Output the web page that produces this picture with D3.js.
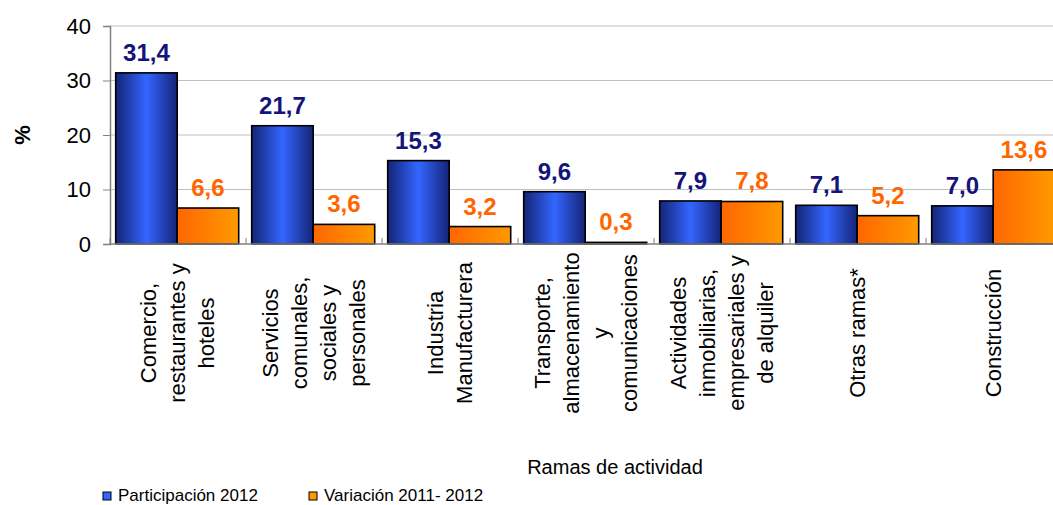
<!DOCTYPE html>
<html lang="es">
<head>
<meta charset="utf-8">
<title>Ramas de actividad</title>
<script src="https://d3js.org/d3.v7.min.js"></script>
<style>
    body { margin: 0; background: #fff; }
    svg { display: block; font-family: Arial, "Liberation Sans", sans-serif; }
    .grid line { stroke: #c0c0c0; stroke-width: 1; }
    .bar { stroke: #000; stroke-width: 1.6px; }
</style>
</head>
<body>
<svg width="1053" height="505"></svg>
<script>
    // categorias (cada una partida en lineas como en el original)
    var categories = [
        ["Comercio,", "restaurantes y", "hoteles"],
        ["Servicios", "comunales,", "sociales y", "personales"],
        ["Industria", "Manufacturera"],
        ["Transporte,", "almacenamiento", "y", "comunicaciones"],
        ["Actividades", "inmobiliarias,", "empresariales y", "de alquiler"],
        ["Otras ramas*"],
        ["Construcción"]
    ];
    var participacion = [31.4, 21.7, 15.3, 9.6, 7.9, 7.1, 7.0];
    var variacion = [6.6, 3.6, 3.2, 0.3, 7.8, 5.2, 13.6];
    var seriesNames = ["Participación 2012", "Variación 2011- 2012"];
    var yTicks = [0, 10, 20, 30, 40];

    var svg = d3.select("svg");
    var x0 = 110, x1 = 1062, yTop = 26, yBottom = 244;

    var defs = svg.append("defs");
    var gb = defs.append("linearGradient").attr("id", "gBlue").attr("x1", "0%").attr("x2", "100%");
    gb.append("stop").attr("offset", "0%").attr("stop-color", "#142477");
    gb.append("stop").attr("offset", "50%").attr("stop-color", "#3366ff");
    gb.append("stop").attr("offset", "100%").attr("stop-color", "#142477");
    var go = defs.append("linearGradient").attr("id", "gOrange").attr("x1", "0%").attr("x2", "100%");
    go.append("stop").attr("offset", "0%").attr("stop-color", "#ff6600");
    go.append("stop").attr("offset", "100%").attr("stop-color", "#ff9a00");

    var x = d3.scaleBand().domain(d3.range(categories.length)).range([x0, x1]);
    var xs = d3.scaleBand().domain([0, 1]).range([5.7, x.bandwidth() - 7.3]);
    var y = d3.scaleLinear().domain([0, 40]).range([yBottom, yTop]);

    // lineas de division
    svg.append("g").attr("class", "grid")
        .selectAll("line").data(yTicks.slice(1)).join("line")
        .attr("x1", x0).attr("x2", x1)
        .attr("y1", d => y(d)).attr("y2", d => y(d));

    // eje y
    var yAxis = svg.append("g").attr("transform", "translate(" + x0 + ",0)")
        .call(d3.axisLeft(y).tickValues(yTicks).tickSize(7).tickPadding(12));
    yAxis.select(".domain").attr("stroke", "#808080").attr("stroke-width", 1.5);
    yAxis.selectAll(".tick line").attr("stroke", "#808080");
    yAxis.selectAll("text").attr("font-size", 22).attr("fill", "#000")
        .attr("font-family", "Arial, 'Liberation Sans', sans-serif");

    svg.append("text")
        .attr("transform", "translate(30,135) rotate(-90)")
        .attr("text-anchor", "middle")
        .attr("font-size", 22).attr("font-weight", "bold")
        .text("%");

    // barras
    var groups = svg.append("g").selectAll("g").data(categories).join("g")
        .attr("transform", (d, i) => "translate(" + x(i) + ",0)");

    groups.append("rect").attr("class", "bar")
        .attr("x", xs(0)).attr("width", xs.bandwidth())
        .attr("y", (d, i) => y(participacion[i]))
        .attr("height", (d, i) => y(0) - y(participacion[i]))
        .attr("fill", "url(#gBlue)");

    groups.append("rect").attr("class", "bar")
        .attr("x", xs(1)).attr("width", xs.bandwidth())
        .attr("y", (d, i) => y(variacion[i]))
        .attr("height", (d, i) => y(0) - y(variacion[i]))
        .attr("fill", "url(#gOrange)");

    var fmt = v => d3.format(".1f")(v).replace(".", ",");

    groups.append("text")
        .attr("x", xs(0) + xs.bandwidth() / 2)
        .attr("y", (d, i) => y(participacion[i]) - 12)
        .attr("text-anchor", "middle")
        .attr("font-size", 24).attr("font-weight", "bold").attr("fill", "#14147a")
        .text((d, i) => fmt(participacion[i]));

    groups.append("text")
        .attr("x", xs(1) + xs.bandwidth() / 2)
        .attr("y", (d, i) => y(variacion[i]) - 12)
        .attr("text-anchor", "middle")
        .attr("font-size", 24).attr("font-weight", "bold").attr("fill", "#ff6600")
        .text((d, i) => fmt(variacion[i]));

    // eje x
    svg.append("line")
        .attr("x1", x0).attr("x2", x1).attr("y1", y(0)).attr("y2", y(0))
        .attr("stroke", "#808080").attr("stroke-width", 1.5);
    svg.append("g").selectAll("line").data(d3.range(categories.length)).join("line")
        .attr("x1", d => x(d)).attr("x2", d => x(d))
        .attr("y1", y(0)).attr("y2", y(0) - 6)
        .attr("stroke", "#808080");

    // etiquetas de categoria
    var lineH = 29;
    groups.append("text")
        .attr("font-size", 22)
        .attr("text-anchor", "middle")
        .attr("transform", "translate(" + (x.bandwidth() / 2) + ",333) rotate(-90)")
        .each(function(lines) {
            var t = d3.select(this);
            lines.forEach(function(l, k) {
                t.append("tspan")
                    .attr("x", 0)
                    .attr("y", (k - (lines.length - 1) / 2) * lineH + 7)
                    .text(l);
            });
        });

    svg.append("text")
        .attr("x", 615).attr("y", 474)
        .attr("text-anchor", "middle")
        .attr("font-size", 20)
        .text("Ramas de actividad");

    // leyenda
    var legend = svg.append("g").selectAll("g").data(seriesNames).join("g")
        .attr("transform", (d, i) => "translate(" + (103 + i * 206) + ",492)");
    legend.append("rect")
        .attr("width", 8).attr("height", 8)
        .attr("stroke", "#000").attr("stroke-width", 1)
        .attr("fill", (d, i) => i === 0 ? "#3366ff" : "#ff9900");
    legend.append("text")
        .attr("x", 15).attr("y", 9)
        .attr("font-size", 17)
        .text(d => d);
</script>
</body>
</html>
